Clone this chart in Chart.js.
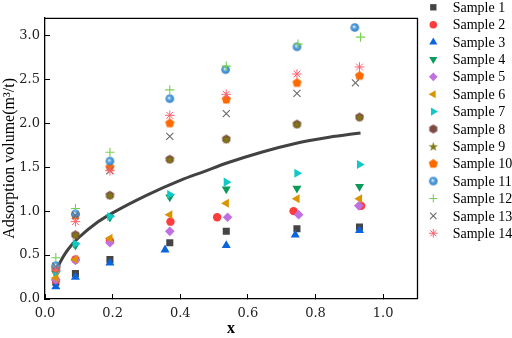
<!DOCTYPE html>
<html>
<head>
<meta charset="utf-8">
<script src="https://cdn.jsdelivr.net/npm/chart.js@4.4.1/dist/chart.umd.min.js"></script>
<style>
  html, body { margin: 0; padding: 0; background: #fff; }
  #wrap { position: relative; width: 512px; height: 338px; }
</style>
</head>
<body>
<div id="wrap"><canvas id="chart" width="512" height="338"></canvas></div>
<script>
// sample names (legend)
var sampleNames = ['Sample 1', 'Sample 2', 'Sample 3', 'Sample 4', 'Sample 5', 'Sample 6', 'Sample 7',
    'Sample 8', 'Sample 9', 'Sample 10', 'Sample 11', 'Sample 12', 'Sample 13', 'Sample 14'];

// x positions of the measurement columns
var xCols = [0.032, 0.09, 0.192, 0.369, 0.536, 0.745, 0.93];
var xS2 = [0.032, 0.09, 0.192, 0.371, 0.509, 0.735, 0.935];
var xS3 = [0.032, 0.09, 0.192, 0.355, 0.536, 0.74, 0.93];
var xS5 = [0.032, 0.09, 0.192, 0.369, 0.54, 0.75, 0.928];
var xS11 = [0.032, 0.09, 0.192, 0.369, 0.534, 0.745, 0.916];
var xS12 = [0.032, 0.09, 0.192, 0.369, 0.536, 0.748, 0.933];
var xS13 = [0.032, 0.09, 0.192, 0.369, 0.536, 0.745, 0.918];

// adsorption volume per sample
var s1 = [0.19, 0.29, 0.45, 0.64, 0.77, 0.80, 0.82];
var s2 = [0.21, 0.45, 0.66, 0.88, 0.93, 1.00, 1.06];
var s3 = [0.14, 0.25, 0.41, 0.56, 0.61, 0.73, 0.78];
var s4 = [0.29, 0.61, 0.93, 1.16, 1.25, 1.26, 1.28];
var s5 = [0.22, 0.44, 0.64, 0.77, 0.93, 0.96, 1.06];
var s6 = [0.24, 0.45, 0.69, 0.96, 1.09, 1.14, 1.14];
var s7 = [0.31, 0.63, 0.94, 1.19, 1.33, 1.43, 1.53];
var s8 = [0.35, 0.73, 1.18, 1.59, 1.82, 1.99, 2.07];
var s9 = [0.35, 0.73, 1.18, 1.59, 1.82, 1.99, 2.07];
var s10 = [0.36, 0.95, 1.50, 2.00, 2.27, 2.46, 2.54];
var s11 = [0.38, 0.97, 1.57, 2.28, 2.61, 2.87, 3.09];
var s12 = [0.47, 1.03, 1.67, 2.38, 2.65, 2.90, 2.98];
var s13 = [0.37, 0.95, 1.46, 1.85, 2.11, 2.34, 2.46];
var s14 = [0.33, 0.88, 1.46, 2.09, 2.33, 2.56, 2.64];

// fitted curve
var fitX = [0.03, 0.045, 0.06, 0.08, 0.10, 0.15, 0.20, 0.30, 0.40, 0.47, 0.54, 0.64, 0.74, 0.84, 0.933];
var fitY = [0.29, 0.42, 0.52, 0.62, 0.70, 0.86, 0.98, 1.18, 1.35, 1.45, 1.55, 1.67, 1.77, 1.84, 1.89];

// axis ticks
var xTickStep = 0.2;
var yTickStep = 0.5;

function makeMarker(size, draw) {
    var c = document.createElement('canvas');
    c.width = size;
    c.height = size;
    draw(c.getContext('2d'), size / 2);
    return c;
}

function polygon(g, c, n, r, fill) {
    g.beginPath();
    for (var i = 0; i < n; i++) {
        var a = -Math.PI / 2 + i * 2 * Math.PI / n;
        g.lineTo(c + r * Math.cos(a), c + r * Math.sin(a));
    }
    g.closePath();
    g.fillStyle = fill;
    g.fill();
}

var hexMarker = makeMarker(11, function(g, c) { polygon(g, c, 6, 4.6, '#7d4b45'); });
var pentMarker = makeMarker(11, function(g, c) { polygon(g, c, 5, 4.8, '#ff6a00'); });
var starMarker = makeMarker(11, function(g, c) {
    g.beginPath();
    for (var i = 0; i < 10; i++) {
        var a = -Math.PI / 2 + i * Math.PI / 5;
        var r = i % 2 === 0 ? 5 : 2;
        g.lineTo(c + r * Math.cos(a), c + 0.5 + r * Math.sin(a));
    }
    g.closePath();
    g.fillStyle = '#7f7a10';
    g.fill();
});
var ballMarker = makeMarker(11, function(g, c) {
    var grad = g.createRadialGradient(c - 0.8, c - 0.8, 0.3, c, c, 4.5);
    grad.addColorStop(0, '#eef7ff');
    grad.addColorStop(0.35, '#5aa8e6');
    grad.addColorStop(1, '#2f78c0');
    g.beginPath();
    g.arc(c, c, 4.3, 0, Math.PI * 2);
    g.fillStyle = grad;
    g.fill();
});

var styles = [
    { x: xCols, y: s1, style: 'rect', r: 5, color: '#454545' },
    { x: xS2, y: s2, style: 'circle', r: 4.2, color: '#ff3c3c' },
    { x: xS3, y: s3, style: 'triangle', r: 5.2, color: '#0a64e0' },
    { x: xCols, y: s4, style: 'triangle', r: 5.2, rot: 180, color: '#0a9a5a' },
    { x: xS5, y: s5, style: 'rectRot', r: 4.8, color: '#c070e0' },
    { x: xCols, y: s6, style: 'triangle', r: 5.2, rot: 270, color: '#d99400' },
    { x: xCols, y: s7, style: 'triangle', r: 5.2, rot: 90, color: '#10c8c8' },
    { x: xCols, y: s8, style: hexMarker, r: 5, color: '#7d4b45' },
    { x: xCols, y: s9, style: starMarker, r: 5, color: '#7f7a10' },
    { x: xCols, y: s10, style: pentMarker, r: 5, color: '#ff6a00' },
    { x: xS11, y: s11, style: ballMarker, r: 5, color: '#3a8ad0' },
    { x: xS12, y: s12, style: 'cross', r: 4.6, color: '#78d050', line: 1.1 },
    { x: xS13, y: s13, style: 'crossRot', r: 5, color: '#6a6a6a', line: 1.1 },
    { x: xCols, y: s14, style: 'star', r: 4.8, color: '#ff6070', line: 1 }
];

var datasets = styles.map(function(s, i) {
    return {
        label: sampleNames[i],
        data: s.x.map(function(x, j) { return { x: x, y: s.y[j] }; }),
        pointStyle: s.style,
        pointRadius: s.r,
        pointHoverRadius: s.r,
        rotation: s.rot || 0,
        backgroundColor: s.color,
        borderColor: s.color,
        borderWidth: s.line || 0,
        showLine: false,
        order: 14 - i // later samples on top
    };
});

datasets.push({
    type: 'line',
    label: 'fit',
    data: fitX.map(function(x, j) { return { x: x, y: fitY[j] }; }),
    borderColor: '#424242',
    borderWidth: 3,
    pointRadius: 0,
    showLine: true,
    fill: false,
    cubicInterpolationMode: 'monotone',
    order: 100
});

// frame on top/right plus the side legend
var framePlugin = {
    id: 'frame',
    afterDraw: function(chart) {
        var ctx = chart.ctx;
        var a = chart.chartArea;
        ctx.save();
        ctx.strokeStyle = '#000';
        ctx.lineWidth = 1.3;
        ctx.beginPath();
        ctx.moveTo(a.left, a.top + 0.5);
        ctx.lineTo(a.right + 0.5, a.top + 0.5);
        ctx.lineTo(a.right + 0.5, a.bottom);
        ctx.stroke();

        var lx = 433.3, ly = 7.3, step = 17.38;
        ctx.font = '14px "Liberation Serif", serif';
        ctx.textBaseline = 'middle';
        ctx.textAlign = 'left';
        styles.forEach(function(s, i) {
            var y = ly + i * step;
            ctx.fillStyle = s.color;
            ctx.strokeStyle = s.color;
            ctx.lineWidth = s.line || 0;
            Chart.helpers.drawPoint(ctx, {
                pointStyle: s.style,
                radius: s.r * 0.9,
                rotation: s.rot || 0,
                borderWidth: s.line || 0
            }, lx, y);
            ctx.fillStyle = '#000';
            ctx.fillText(sampleNames[i], 452.7, y + 1);
        });
        ctx.restore();
    }
};

var tickFont = { family: '"DejaVu Serif", serif', size: 13 };

var chart = new Chart(document.getElementById('chart').getContext('2d'), {
    type: 'scatter',
    data: { datasets: datasets },
    options: {
        responsive: false,
        animation: false,
        devicePixelRatio: 1,
        layout: { padding: { top: 1, right: 95, left: 0, bottom: 0 } },
        plugins: {
            legend: { display: false },
            tooltip: { enabled: false }
        },
        scales: {
            x: {
                type: 'linear',
                min: 0,
                max: 1.1,
                afterFit: function(scale) { scale.height = 39; },
                border: { color: '#000', width: 1.3 },
                grid: { drawOnChartArea: false, tickLength: -5, tickColor: '#000', tickWidth: 1 },
                ticks: {
                    stepSize: xTickStep,
                    includeBounds: false,
                    padding: 12,
                    color: '#222',
                    font: tickFont,
                    callback: function(v) { return v.toFixed(1); }
                },
                title: {
                    display: true,
                    text: 'x',
                    color: '#000',
                    padding: { top: 0, bottom: 0 },
                    font: { family: '"Liberation Serif", serif', size: 16, weight: 'bold' }
                }
            },
            y: {
                type: 'linear',
                min: 0,
                max: 3.2,
                afterFit: function(scale) { scale.width = 45; },
                border: { color: '#000', width: 1.3 },
                grid: { drawOnChartArea: false, tickLength: -5, tickColor: '#000', tickWidth: 1 },
                ticks: {
                    stepSize: yTickStep,
                    includeBounds: false,
                    padding: 10,
                    color: '#222',
                    font: tickFont,
                    callback: function(v) { return v.toFixed(1); }
                },
                title: {
                    display: true,
                    text: 'Adsorption volume(m³/t)',
                    color: '#000',
                    padding: { top: 0, bottom: 0 },
                    font: { family: '"Liberation Serif", serif', size: 16 }
                }
            }
        }
    },
    plugins: [framePlugin]
});
</script>
</body>
</html>
